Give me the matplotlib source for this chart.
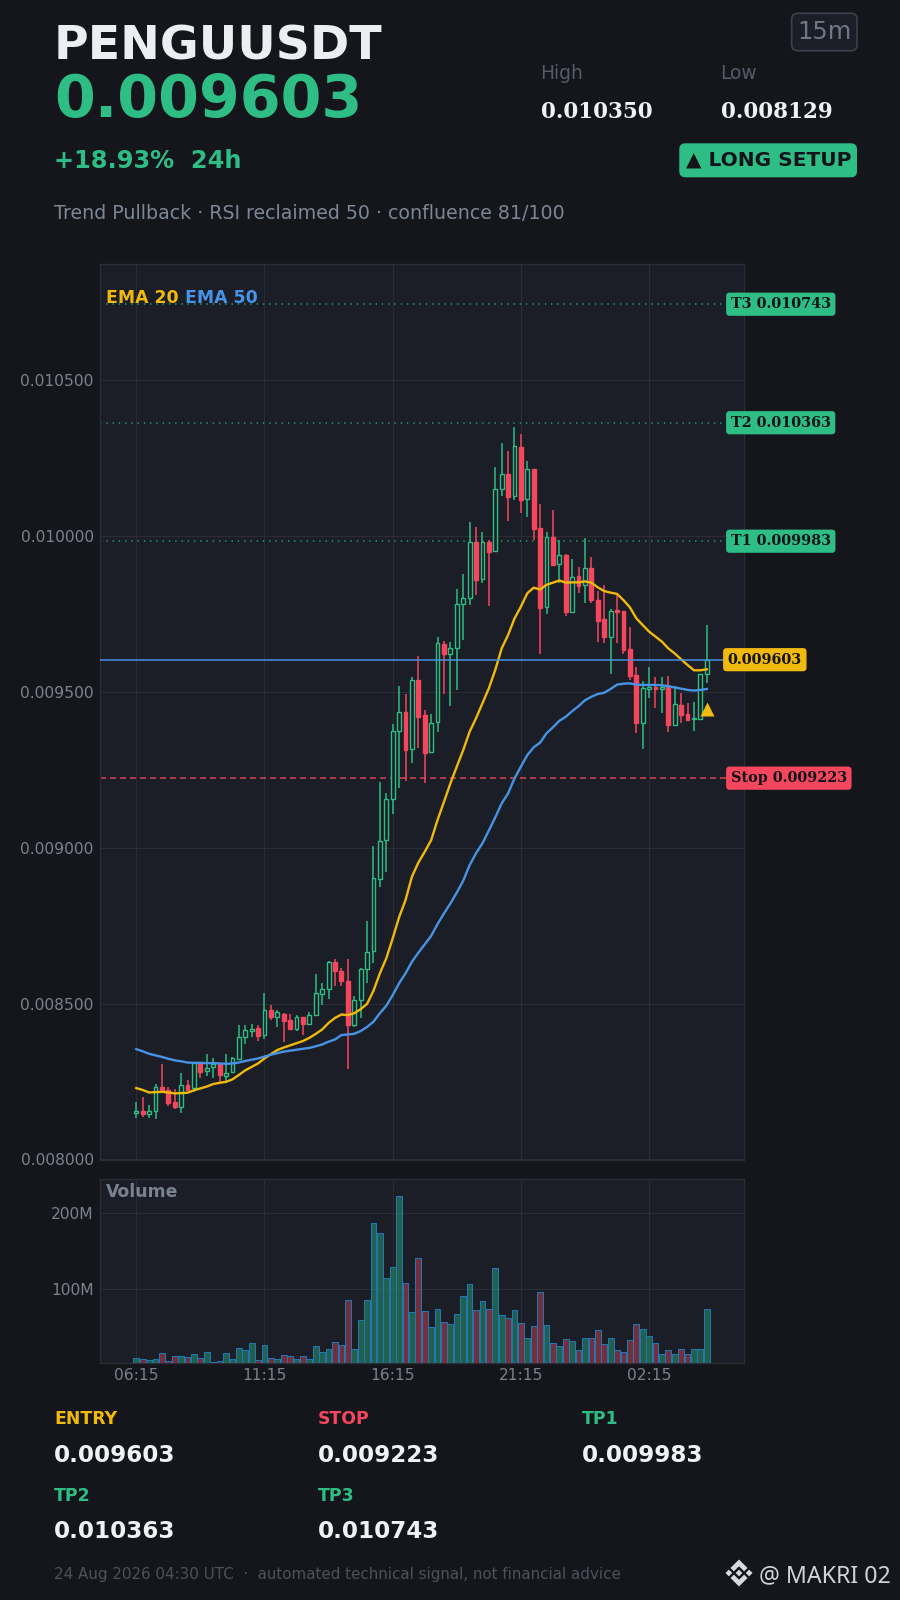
import matplotlib
matplotlib.use("Agg")
import matplotlib.pyplot as plt
from matplotlib.patches import FancyBboxPatch, Polygon
from matplotlib.transforms import IdentityTransform, blended_transform_factory

# ---------------- data ----------------
opens = [0.008148,0.008155,0.008147,0.008156,0.008232,0.008222,0.008184,0.008169,0.008239,0.008228,
         0.008308,0.008285,0.008297,0.008306,0.008269,0.008281,0.008323,0.008392,0.008412,0.008421,
         0.008398,0.008481,0.008458,0.008468,0.008449,0.008418,0.008456,0.008435,0.008464,0.008532,
         0.008546,0.008633,0.008604,0.008572,0.008431,0.008513,0.008610,0.008668,0.008899,0.009024,
         0.009155,0.009375,0.009434,0.009315,0.009537,0.009424,0.009308,0.009402,0.009653,0.009622,
         0.009642,0.009780,0.009800,0.009982,0.009861,0.009982,0.009950,0.010149,0.010197,0.010127,
         0.010284,0.010117,0.010213,0.010024,0.009771,0.009995,0.009909,0.009938,0.009757,0.009870,
         0.009841,0.009896,0.009796,0.009732,0.009677,0.009761,0.009759,0.009637,0.009554,0.009401,
         0.009508,0.009516,0.009510,0.009514,0.009395,0.009458,0.009428,0.009412,0.009414,0.009556]
highs = [0.008183,0.008201,0.008176,0.008241,0.008305,0.008231,0.008225,0.008276,0.008254,0.008310,
         0.008310,0.008337,0.008324,0.008310,0.008337,0.008330,0.008432,0.008430,0.008436,0.008430,
         0.008535,0.008497,0.008478,0.008471,0.008468,0.008463,0.008456,0.008474,0.008596,0.008567,
         0.008636,0.008644,0.008615,0.008644,0.008525,0.008615,0.008766,0.009006,0.009212,0.009174,
         0.009398,0.009519,0.009493,0.009548,0.009616,0.009443,0.009430,0.009677,0.009664,0.009661,
         0.009831,0.009879,0.010043,0.010027,0.010011,0.009987,0.010222,0.010297,0.010273,0.010350,
         0.010328,0.010241,0.010213,0.010103,0.010014,0.010084,0.009986,0.009943,0.009927,0.009901,
         0.009994,0.009933,0.009824,0.009843,0.009767,0.009810,0.009759,0.009709,0.009581,0.009536,
         0.009581,0.009549,0.009549,0.009552,0.009520,0.009495,0.009463,0.009466,0.009556,0.009715]
lows = [0.008132,0.008137,0.008132,0.008129,0.008223,0.008170,0.008162,0.008148,0.008221,0.008217,
        0.008260,0.008268,0.008260,0.008246,0.008249,0.008276,0.008323,0.008369,0.008394,0.008381,
        0.008385,0.008446,0.008426,0.008376,0.008417,0.008413,0.008400,0.008430,0.008464,0.008496,
        0.008516,0.008557,0.008557,0.008289,0.008425,0.008455,0.008565,0.008629,0.008875,0.008921,
        0.009107,0.009190,0.009214,0.009273,0.009319,0.009206,0.009308,0.009370,0.009492,0.009453,
        0.009505,0.009665,0.009779,0.009812,0.009848,0.009774,0.009950,0.010127,0.010047,0.010114,
        0.010075,0.010059,0.009986,0.009620,0.009748,0.009905,0.009848,0.009742,0.009757,0.009816,
        0.009784,0.009786,0.009659,0.009658,0.009556,0.009658,0.009620,0.009538,0.009367,0.009316,
        0.009479,0.009447,0.009433,0.009371,0.009392,0.009399,0.009405,0.009373,0.009414,0.009527]
closes = [0.008154,0.008147,0.008157,0.008231,0.008223,0.008181,0.008167,0.008238,0.008222,0.008308,
          0.008281,0.008295,0.008306,0.008271,0.008279,0.008324,0.008392,0.008414,0.008417,0.008396,
          0.008481,0.008457,0.008472,0.008444,0.008419,0.008456,0.008434,0.008465,0.008533,0.008546,
          0.008633,0.008605,0.008572,0.008431,0.008513,0.008610,0.008667,0.008902,0.009020,0.009155,
          0.009373,0.009434,0.009314,0.009537,0.009420,0.009305,0.009399,0.009655,0.009622,0.009642,
          0.009780,0.009800,0.009982,0.009859,0.009979,0.009949,0.010149,0.010197,0.010126,0.010287,
          0.010116,0.010213,0.010023,0.009770,0.009995,0.009908,0.009938,0.009757,0.009869,0.009840,
          0.009896,0.009794,0.009728,0.009677,0.009758,0.009757,0.009634,0.009551,0.009401,0.009511,
          0.009516,0.009510,0.009514,0.009395,0.009460,0.009427,0.009410,0.009415,0.009556,0.009603]
ema20 = [0.008229,0.008223,0.008215,0.008216,0.008217,0.008215,0.008212,0.008213,0.008214,0.008222,
         0.008228,0.008234,0.008242,0.008246,0.008249,0.008257,0.008271,0.008286,0.008297,0.008308,
         0.008324,0.008338,0.008351,0.008359,0.008366,0.008373,0.008380,0.008390,0.008403,0.008417,
         0.008438,0.008454,0.008465,0.008463,0.008469,0.008482,0.008499,0.008541,0.008597,0.008645,
         0.008709,0.008777,0.008832,0.008907,0.008952,0.008987,0.009024,0.009089,0.009147,0.009206,
         0.009260,0.009313,0.009372,0.009415,0.009463,0.009511,0.009570,0.009639,0.009682,0.009735,
         0.009773,0.009816,0.009834,0.009828,0.009843,0.009850,0.009857,0.009850,0.009851,0.009851,
         0.009854,0.009850,0.009835,0.009823,0.009818,0.009814,0.009794,0.009771,0.009736,0.009714,
         0.009693,0.009677,0.009661,0.009639,0.009623,0.009604,0.009586,0.009569,0.009569,0.009572]
ema50 = [0.008354,0.008347,0.008339,0.008334,0.008329,0.008323,0.008318,0.008315,0.008311,0.008310,
         0.008310,0.008309,0.008309,0.008308,0.008307,0.008308,0.008311,0.008316,0.008320,0.008324,
         0.008330,0.008336,0.008341,0.008346,0.008349,0.008352,0.008355,0.008358,0.008363,0.008369,
         0.008378,0.008385,0.008399,0.008401,0.008403,0.008412,0.008425,0.008442,0.008469,0.008493,
         0.008527,0.008565,0.008597,0.008634,0.008663,0.008690,0.008717,0.008755,0.008789,0.008821,
         0.008856,0.008894,0.008944,0.008982,0.009014,0.009055,0.009097,0.009142,0.009174,0.009222,
         0.009260,0.009297,0.009322,0.009337,0.009367,0.009386,0.009407,0.009420,0.009438,0.009454,
         0.009473,0.009484,0.009493,0.009497,0.009509,0.009523,0.009526,0.009527,0.009523,0.009522,
         0.009522,0.009522,0.009521,0.009518,0.009514,0.009510,0.009506,0.009504,0.009506,0.009509]
volumes_m = [9.2,7.9,6.5,7.9,15.8,5.2,11.8,11.8,10.5,14.4,9.2,17.1,3.9,5.2,15.8,7.9,22.3,19.7,28.9,6.5,
             26.3,9.2,7.9,13.1,11.8,7.9,11.8,7.9,25.0,17.1,21.0,30.2,26.3,85.5,21.0,59.2,85.5,186.8,173.7,114.4,
             128.9,222.3,107.9,69.7,140.8,71.0,50.0,73.7,56.5,53.9,67.1,90.8,106.5,72.3,84.2,73.7,127.6,65.8,61.8,72.3,
             55.2,35.5,51.3,96.0,52.6,28.9,25.0,34.2,31.5,19.7,35.5,35.5,46.0,27.6,35.5,19.7,17.1,32.9,53.9,47.3,
             38.1,28.9,14.4,19.7,14.4,21.0,14.4,21.0,21.0,73.7]
time_labels = ["06:15", "11:15", "16:15", "21:15", "02:15"]
time_label_bars = [0, 20, 40, 60, 80]
price_ticks = [0.008, 0.0085, 0.009, 0.0095, 0.010, 0.0105]
volume_ticks_m = [100, 200]
volume_tick_labels = ["100M", "200M"]
entry_price = 0.009603
stop_price = 0.009223
tp1 = 0.009983
tp2 = 0.010363
tp3 = 0.010743
signal_price = 0.009445
signal_bar = 89

# ---------------- style ----------------
BG = "#14161b"
PANEL = "#1b1e26"
GRID = "#2a2d36"
GREEN = "#2ebd85"
RED = "#f6465d"
GOLD = "#f0b90b"
BLUE = "#4793e6"
TICK = "#7a8290"
WHITE = "#f0f2f5"
DARK = "#12141a"

plt.rcParams["font.family"] = ["DejaVu Sans"]

W, H = 900, 1600
fig = plt.figure(figsize=(W / 100, H / 100), dpi=100, facecolor=BG)
IDT = IdentityTransform()


def fx(x):
    return x / W


def fy(y):
    return 1 - y / H


def label(x, y, s, size, color, weight="normal", family=None, ha="left"):
    kw = {"family": family} if family else {}
    fig.text(fx(x), fy(y), s, fontsize=size, color=color, fontweight=weight,
             ha=ha, va="baseline", **kw)


def rbox(x0, y0, x1, y1, fc, ec="none", lw=0, r=6):
    fig.add_artist(FancyBboxPatch((x0 + r, H - y1 + r), x1 - x0 - 2 * r, y1 - y0 - 2 * r,
                                  boxstyle=f"round,pad={r},rounding_size={r}", fc=fc, ec=ec, lw=lw,
                                  transform=IDT))


# ---------------- axes ----------------
L, R = 100.0, 743.7
ax = fig.add_axes([fx(L), fy(1159.5), (R - L) / W, (1159.5 - 264) / H], facecolor=PANEL)
vax = fig.add_axes([fx(L), fy(1363.3), (R - L) / W, (1363.3 - 1179.3) / H], facecolor=PANEL)
xmin, xmax = -5.66, 94.76

bars = list(range(len(closes)))
up = [c >= o for o, c in zip(opens, closes)]
colors = [GREEN if u else RED for u in up]

ax.vlines(bars, lows, highs, colors=colors, lw=1.1, zorder=3)
ax.bar(bars, [abs(c - o) for o, c in zip(opens, closes)], bottom=[min(o, c) for o, c in zip(opens, closes)],
       width=0.6, color=[PANEL if u else RED for u in up], edgecolor=colors, lw=1.0, zorder=4)

ax.plot(bars, ema20, color=GOLD, lw=1.7, zorder=6)
ax.plot(bars, ema50, color=BLUE, lw=1.7, zorder=6)

ax.axhline(tp1, color=GREEN, lw=1.1, ls=(0, (0.9, 3.2)), alpha=0.8, zorder=2)
ax.axhline(tp2, color=GREEN, lw=1.1, ls=(0, (0.9, 3.2)), alpha=0.8, zorder=2)
ax.axhline(tp3, color=GREEN, lw=1.1, ls=(0, (0.9, 3.2)), alpha=0.8, zorder=2)
ax.axhline(stop_price, color=RED, lw=1.2, ls=(0, (3.6, 2.4)), alpha=0.8, zorder=2)
ax.axhline(entry_price, color=BLUE, lw=1.2, alpha=0.9, zorder=7)
ax.plot([signal_bar], [signal_price], marker="^", ms=10, color=GOLD, mec="none", zorder=8, ls="none")

ax.set_xlim(xmin, xmax)
ax.set_ylim(0.008, 0.010872)
ax.set_yticks(price_ticks)
ax.set_yticklabels([f"{v:.6f}" for v in price_ticks])
ax.set_xticks(time_label_bars)
ax.tick_params(axis="x", length=0, labelbottom=False)
ax.tick_params(axis="y", length=0, colors=TICK, labelsize=11.2, pad=4.5)
ax.grid(True, color=GRID, lw=0.8)
ax.set_axisbelow(True)

vax.bar(bars, volumes_m, width=0.9, color=[(0.18, 0.74, 0.52, 0.42) if u else (0.965, 0.275, 0.365, 0.42) for u in up],
        edgecolor="#1f77b4", lw=0.75, zorder=3)
vax.set_xlim(xmin, xmax)
vax.set_ylim(2.6, 244.7)
vax.set_yticks(volume_ticks_m)
vax.set_yticklabels(volume_tick_labels)
vax.set_xticks(time_label_bars)
vax.set_xticklabels(time_labels)
vax.tick_params(axis="both", length=0, colors=TICK, labelsize=11.2)
vax.tick_params(axis="y", pad=4.5)
vax.tick_params(axis="x", pad=3.5)
vax.grid(True, color=GRID, lw=0.8)
vax.set_axisbelow(True)

for a in (ax, vax):
    for s in a.spines.values():
        s.set_color(GRID)
        s.set_linewidth(1.0)

# ---------------- right-hand badges ----------------
trans = blended_transform_factory(ax.transAxes, ax.transData)
badge_x = (730.7 - L) / (R - L)


def badge(y, s, fc, x=badge_x, size=10.35):
    ax.text(x, y, s, transform=trans, fontsize=size, family="DejaVu Serif", fontweight="bold", color=DARK,
            ha="left", va="center", clip_on=False, zorder=10,
            bbox=dict(boxstyle="round,pad=0.32,rounding_size=0.25", fc=fc, ec="none"))


badge(tp3, f"T3 {tp3:.6f}", GREEN)
badge(tp2, f"T2 {tp2:.6f}", GREEN)
badge(tp1, f"T1 {tp1:.6f}", GREEN)
badge(stop_price, f"Stop {stop_price:.6f}", RED)
badge(entry_price, f"{entry_price:.6f}", GOLD, x=(727.7 - L) / (R - L))

# ---------------- in-panel labels ----------------
label(105.5, 303.3, "EMA 20", 12.4, GOLD, "bold")
label(184.8, 303.3, "EMA 50", 12.4, BLUE, "bold")
label(105.5, 1197, "Volume", 12.4, TICK, "bold")

# ---------------- header ----------------
label(54, 60, "PENGUUSDT", 34.1, "#eceef2", "bold")
label(54, 116.7, f"{entry_price:.6f}", 42.3, GREEN, "bold")
label(54, 168.3, "+18.93%  24h", 17.3, GREEN, "bold")
label(54, 219, "Trend Pullback · RSI reclaimed 50 · confluence 81/100", 13.66, "#7d8695")

rbox(791.7, 13.3, 857, 50.7, "#1b1e26", "#3c414c", 1.2, r=6)
label(824.3, 38.7, "15m", 17.5, "#6f7786", ha="center")
label(540, 79, "High", 13.4, "#555c69")
label(720, 79, "Low", 13.4, "#555c69")
label(540.7, 118.3, f"{max(highs):.6f}", 15.5, WHITE, "bold", "DejaVu Serif")
label(720.7, 118.3, f"{min(lows):.6f}", 15.5, WHITE, "bold", "DejaVu Serif")
rbox(679.3, 143.3, 857, 177.3, GREEN, r=6)
label(686, 165.7, "▲ LONG SETUP", 14.5, DARK, "bold")

# ---------------- level summary ----------------
cols = [54, 318, 581.5]
label(cols[0], 1424.3, "ENTRY", 12.4, GOLD, "bold")
label(cols[1], 1424.3, "STOP", 12.4, RED, "bold")
label(cols[2], 1424.3, "TP1", 12.4, GREEN, "bold")
label(cols[0], 1461.7, f"{entry_price:.6f}", 16.6, WHITE, "bold")
label(cols[1], 1461.7, f"{stop_price:.6f}", 16.6, WHITE, "bold")
label(cols[2], 1461.7, f"{tp1:.6f}", 16.6, WHITE, "bold")
label(cols[0], 1501, "TP2", 12.4, GREEN, "bold")
label(cols[1], 1501, "TP3", 12.4, GREEN, "bold")
label(cols[0], 1538.3, f"{tp2:.6f}", 16.6, WHITE, "bold")
label(cols[1], 1538.3, f"{tp3:.6f}", 16.6, WHITE, "bold")
label(54, 1579.3, "24 Aug 2026 04:30 UTC  ·  automated technical signal, not financial advice", 10.9, "#4c515c")

# ---------------- watermark ----------------
LOGO = "#d8dade"
cx, cy, rad = 739, 1573, 13.5


def logo_poly(points):
    fig.add_artist(Polygon([(cx + rad * a, H - (cy - rad * b)) for a, b in points], closed=True,
                           fc=LOGO, ec="none", transform=IDT))


d = 0.25
logo_poly([(0, d), (d, 0), (0, -d), (-d, 0)])
logo_poly([(0.75, d), (0.75 + d, 0), (0.75, -d), (0.75 - d, 0)])
logo_poly([(-0.75, d), (-0.75 + d, 0), (-0.75, -d), (-0.75 - d, 0)])
logo_poly([(0, 1), (0.63, 0.37), (0.38, 0.12), (0, 0.5), (-0.38, 0.12), (-0.63, 0.37)])
logo_poly([(0, -1), (0.63, -0.37), (0.38, -0.12), (0, -0.5), (-0.38, -0.12), (-0.63, -0.37)])
label(759, 1582, "@ MAKRI 02", 16.7, "#d0d3d8", family="Noto Sans")

fig.savefig("out.png", dpi=100, facecolor=BG)
